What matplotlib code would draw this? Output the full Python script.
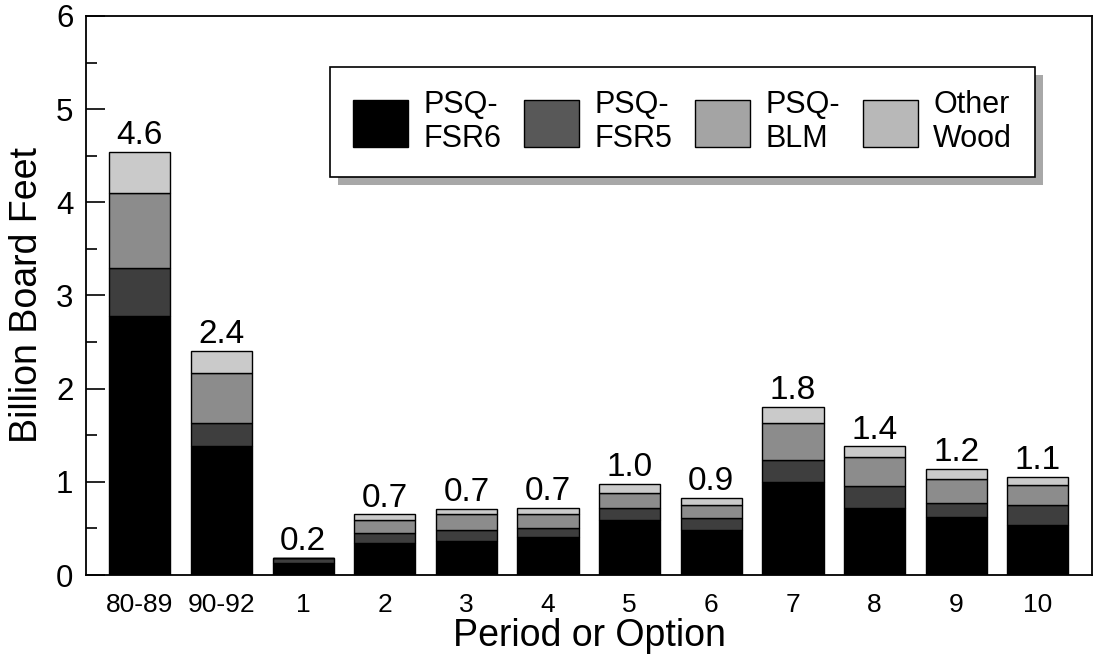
import matplotlib
matplotlib.use("Agg")
import matplotlib.pyplot as plt
from matplotlib.patches import Patch, Rectangle
from matplotlib.ticker import MultipleLocator

categories = ["80-89", "90-92", "1", "2", "3", "4", "5", "6", "7", "8", "9", "10"]
psq_fsr6 = [2.78, 1.38, 0.13, 0.34, 0.37, 0.41, 0.59, 0.48, 1.00, 0.72, 0.62, 0.54]
psq_fsr5 = [0.51, 0.25, 0.05, 0.11, 0.11, 0.09, 0.13, 0.13, 0.23, 0.24, 0.15, 0.21]
psq_blm = [0.81, 0.54, 0.00, 0.14, 0.17, 0.16, 0.16, 0.14, 0.40, 0.31, 0.26, 0.22]
other_wood = [0.44, 0.23, 0.00, 0.06, 0.06, 0.06, 0.10, 0.08, 0.17, 0.11, 0.11, 0.08]
total_labels = ["4.6", "2.4", "0.2", "0.7", "0.7", "0.7", "1.0", "0.9", "1.8", "1.4", "1.2", "1.1"]

series_names = ["PSQ-\nFSR6", "PSQ-\nFSR5", "PSQ-\nBLM", "Other\nWood"]
series_values = [psq_fsr6, psq_fsr5, psq_blm, other_wood]
bar_colors = ["#000000", "#3e3e3e", "#8c8c8c", "#cacaca"]
legend_colors = ["#000000", "#585858", "#a4a4a4", "#b8b8b8"]

plt.rcParams['font.family'] = ['Liberation Sans', 'DejaVu Sans']

fig = plt.figure(figsize=(10.94, 6.64), dpi=100)
ax = fig.add_axes([0.0786, 0.134, 0.92, 0.842])

x = list(range(len(categories)))
bottoms = [0.0] * len(categories)
for vals, col in zip(series_values, bar_colors):
    ax.bar(x, vals, width=0.75, bottom=bottoms, color=col, edgecolor="black",
           linewidth=1.0)
    bottoms = [b + v for b, v in zip(bottoms, vals)]

for xi, tot, lab in zip(x, bottoms, total_labels):
    ax.text(xi, tot + 0.01, lab, ha="center", va="bottom", fontsize=24)

ax.set_xlim(-0.66, 11.67)
ax.set_ylim(0, 6)
ax.yaxis.set_major_locator(MultipleLocator(1))
ax.yaxis.set_minor_locator(MultipleLocator(0.5))
ax.tick_params(axis="y", which="major", direction="in", length=14, width=1.2,
               labelsize=22.5, pad=9)
ax.tick_params(axis="y", which="minor", direction="in", length=8, width=1.2)
ax.set_xticks(x)
ax.set_xticklabels(categories)
ax.tick_params(axis="x", length=0, labelsize=19, pad=13)
for s in ax.spines.values():
    s.set_linewidth(1.3)

ax.set_ylabel("Billion Board Feet", fontsize=27, labelpad=8)
ax.set_xlabel("Period or Option", fontsize=27, labelpad=1)

handles = [Patch(facecolor=c, edgecolor="black", label=n)
           for n, c in zip(series_names, legend_colors)]
leg = ax.legend(handles=handles, ncol=4, loc="upper left",
                bbox_to_anchor=(0.2425, 0.909), borderaxespad=0,
                fontsize=22, frameon=True, fancybox=False, shadow=False,
                edgecolor="black", framealpha=1.0,
                handlelength=1.8, handleheight=2.0,
                handletextpad=0.5, columnspacing=0.75, borderpad=0.75,
                labelspacing=0.2)
leg.get_frame().set_linewidth(1.2)
leg.set_zorder(5)

fig.canvas.draw()
bb = leg.get_window_extent().transformed(ax.transAxes.inverted())
off_x = 8 / (ax.bbox.width)
off_y = 8 / (ax.bbox.height)
shadow = Rectangle((bb.x0 + off_x, bb.y0 - off_y), bb.width, bb.height,
                   transform=ax.transAxes, facecolor="#a8a8a8",
                   edgecolor="none", zorder=4)
ax.add_patch(shadow)

fig.savefig("out.png", dpi=100)
